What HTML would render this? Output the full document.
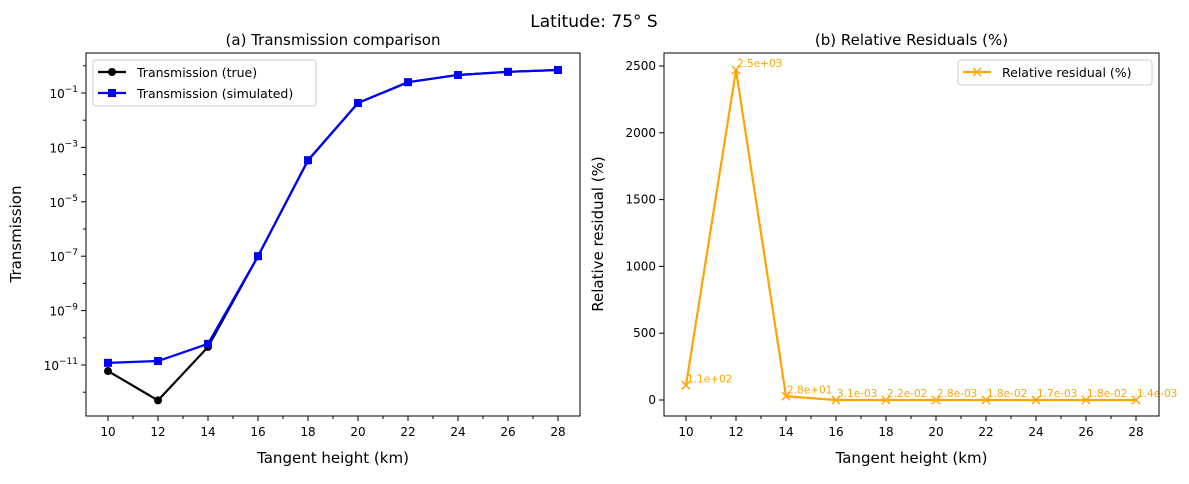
<!DOCTYPE html>
<html><head><meta charset="utf-8"><style>
body{margin:0;background:#fff}
svg{font-family:"DejaVu Sans","Liberation Sans",sans-serif}
</style></head><body>
<svg id="c" width="1189" height="479" viewBox="0 0 1189 479" xmlns="http://www.w3.org/2000/svg"></svg>
<script>
const heights=[10,12,14,16,18,20,22,24,26,28];
const transTrue=[6e-12,5e-13,4.6e-11,1e-7,3.3e-4,0.043,0.25,0.46,0.6,0.7];
const transSim=[1.2e-11,1.4e-11,6e-11,1e-7,3.4e-4,0.043,0.25,0.46,0.6,0.7];
const residual=[110,2470,28,0.0031,0.022,0.0028,0.018,0.0017,0.018,0.0014];
const residualLabels=["1.1e+02","2.5e+03","2.8e+01","3.1e-03","2.2e-02","2.8e-03","1.8e-02","1.7e-03","1.8e-02","1.4e-03"];
const xTicks=[10,12,14,16,18,20,22,24,26,28];
const logTicks=[-11,-9,-7,-5,-3,-1];
const linTicks=[0,500,1000,1500,2000,2500];

const svg=document.getElementById('c');
const NS='http://www.w3.org/2000/svg';
function mk(tag,at,parent,text){const e=document.createElementNS(NS,tag);for(const k in at)e.setAttribute(k,at[k]);if(text!==undefined)e.textContent=text;(parent||svg).appendChild(e);return e;}
const T=53,B=416;
const xL=v=>108+(v-10)*25;
const xR=v=>686+(v-10)*25;
const yLog=v=>93-(Math.log10(v)+1)*27.2;
const yLin=v=>400-v*0.1336;

let t=mk('text',{x:594,y:27,'text-anchor':'middle','font-size':17},svg,'Latitude: 75° S');


function panel(x0,x1,xf,title,name){
  const g=mk('g',{});
  
  const tt=mk('text',{x:(x0+x1)/2,y:45,'text-anchor':'middle','font-size':15},g,title);
  
  const xa=mk('g',{},g);
  xTicks.forEach(v=>{const x=xf(v);mk('line',{x1:x,x2:x,y1:B,y2:B+5,stroke:'#000'},xa);
    mk('text',{x:x,y:B+20,'text-anchor':'middle','font-size':12},xa,String(v));
    if(v<28){const xm=xf(v+1);mk('line',{x1:xm,x2:xm,y1:B,y2:B+3,stroke:'#000'},xa);}});
  const xt=mk('text',{x:(x0+x1)/2,y:463,'text-anchor':'middle','font-size':15},g,'Tangent height (km)');
  
  return g;
}
const gl=panel(86,580,xL,'(a) Transmission comparison','transmission-panel');
const ya=mk('g',{},gl);
logTicks.forEach(p=>{const y=yLog(Math.pow(10,p));mk('line',{x1:81,x2:86,y1:y,y2:y,stroke:'#000'},ya);
  const tx=mk('text',{x:78,y:y+5,'text-anchor':'end','font-size':12},ya,'10');
  mk('tspan',{dy:-6,'font-size':9},tx,'−'+Math.abs(p));
  const ym=yLog(Math.pow(10,p+1));if(ym>T)mk('line',{x1:83,x2:86,y1:ym,y2:ym,stroke:'#000'},ya);});
{const ym=yLog(Math.pow(10,-12));mk('line',{x1:83,x2:86,y1:ym,y2:ym,stroke:'#000'},ya);}
let yt=mk('text',{x:21,y:234,'text-anchor':'middle','font-size':15,transform:'rotate(-90 21 234)'},gl,'Transmission');

function line(g,xs,ys,color,name){const p=mk('polyline',{points:xs.map((x,i)=>x+','+ys[i]).join(' '),fill:'none',stroke:color,'stroke-width':2.2,'stroke-linejoin':'round'},g);
  }
line(gl,heights.map(xL),transTrue.map(yLog),'#000','true-line');
heights.forEach((h,i)=>{const c=mk('circle',{cx:xL(h),cy:yLog(transTrue[i]),r:4,fill:'#000'},gl);
  });
line(gl,heights.map(xL),transSim.map(yLog),'#0000ff','simulated-line');
heights.forEach((h,i)=>{const r=mk('rect',{x:xL(h)-4,y:yLog(transSim[i])-4,width:8,height:8,fill:'#0000ff'},gl);
  });
mk('rect',{x:86,y:T,width:494,height:B-T,fill:'none',stroke:'#000','stroke-width':1},gl);
const lg=mk('g',{},gl);
mk('rect',{x:93,y:60,width:223,height:46,rx:3,fill:'#fff',stroke:'#ccc'},lg);
mk('line',{x1:98,x2:126,y1:72,y2:72,stroke:'#000','stroke-width':2.2},lg);mk('circle',{cx:112,cy:72,r:4,fill:'#000'},lg);
mk('text',{x:137,y:77,'font-size':12.5},lg,'Transmission (true)');
mk('line',{x1:98,x2:126,y1:93,y2:93,stroke:'#00f','stroke-width':2.2},lg);mk('rect',{x:108,y:89,width:8,height:8,fill:'#00f'},lg);
mk('text',{x:137,y:98,'font-size':12.5},lg,'Transmission (simulated)');

const gr=panel(664,1159,xR,'(b) Relative Residuals (%)','residual-panel');
const yb=mk('g',{},gr);
linTicks.forEach(v=>{const y=yLin(v);mk('line',{x1:659,x2:664,y1:y,y2:y,stroke:'#000'},yb);
  mk('text',{x:656,y:y+4,'text-anchor':'end','font-size':12},yb,String(v));});
yt=mk('text',{x:603,y:234,'text-anchor':'middle','font-size':15,transform:'rotate(-90 603 234)'},gr,'Relative residual (%)');

line(gr,heights.map(xR),residual.map(yLin),'#ffa500','residual-line');
heights.forEach((h,i)=>{const x=xR(h),y=yLin(residual[i]);
  const m=mk('path',{d:`M${x-4},${y-4}L${x+4},${y+4}M${x-4},${y+4}L${x+4},${y-4}`,stroke:'#ffa500','stroke-width':1.5},gr);
  
  const l=mk('text',{x:x+1,y:y-3,'font-size':10.5,fill:'#ffa500'},gr,residualLabels[i]);
  });
mk('rect',{x:664,y:T,width:495,height:B-T,fill:'none',stroke:'#000','stroke-width':1},gr);
const lr=mk('g',{},gr);
mk('rect',{x:958,y:60,width:194,height:25,rx:3,fill:'#fff',stroke:'#ccc'},lr);
mk('line',{x1:963,x2:991,y1:72,y2:72,stroke:'#ffa500','stroke-width':2.2},lr);
mk('path',{d:'M973,68L981,76M973,76L981,68',stroke:'#ffa500','stroke-width':1.5},lr);
mk('text',{x:1002,y:77,'font-size':12.5},lr,'Relative residual (%)');
</script>
</body></html>
